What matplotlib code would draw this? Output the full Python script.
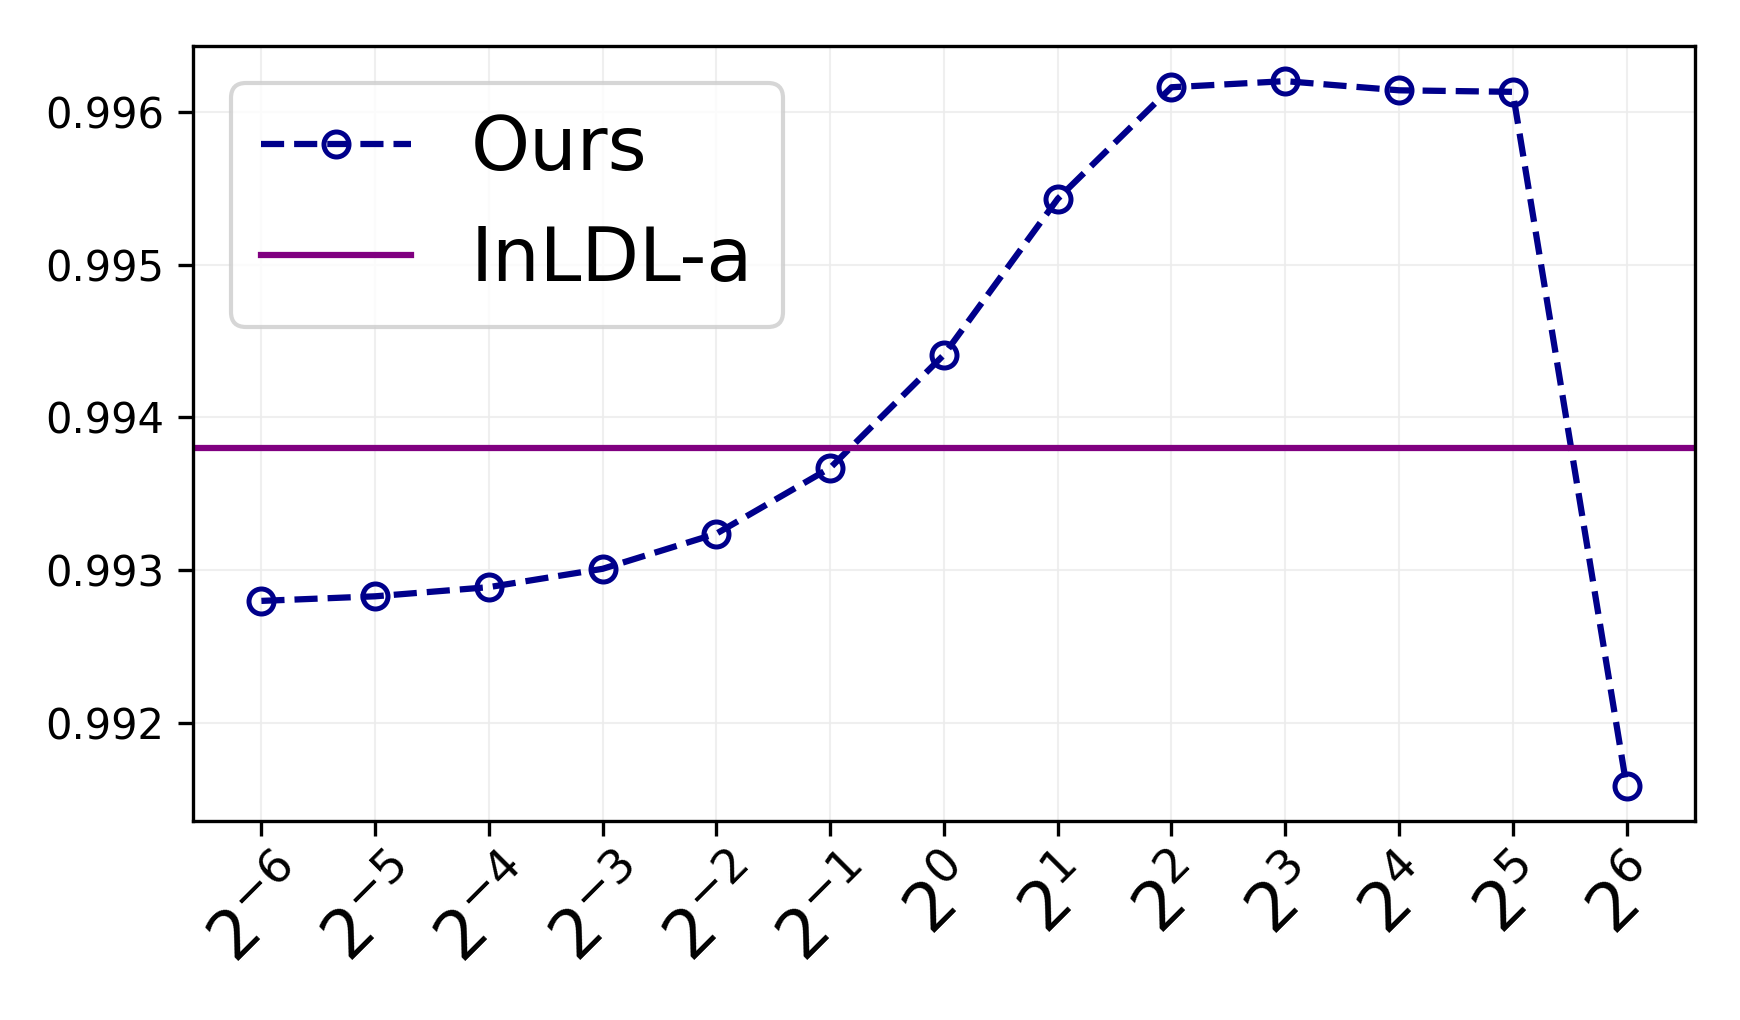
import matplotlib
matplotlib.use("Agg")
import matplotlib.pyplot as plt
import numpy as np

exponents = [-6, -5, -4, -3, -2, -1, 0, 1, 2, 3, 4, 5, 6]
tick_labels = [r"$2^{%d}$" % e for e in exponents]
ours = [0.99280, 0.99283, 0.99289, 0.99301, 0.99324, 0.99367, 0.99441,
        0.99543, 0.99616, 0.99620, 0.99614, 0.99613, 0.99159]
inldl_a = 0.99380

fig = plt.figure(figsize=(5.8, 3.4), dpi=300)
ax = fig.add_axes([0.111, 0.195, 0.863, 0.760])
x = np.arange(len(exponents))
ax.plot(x, ours, linestyle="--", color="darkblue", marker="o", markersize=6,
        markerfacecolor="none", markeredgewidth=1.2, linewidth=1.5, label="Ours")
ax.axhline(inldl_a, color="purple", linewidth=1.5, label="InLDL-a")
ax.set_xticks(x)
ax.set_xticklabels(tick_labels, rotation=45, fontsize=16)
ax.tick_params(axis="y", labelsize=10)
ax.grid(True, color="#ececec", linewidth=0.5, alpha=0.8)
ax.yaxis.set_major_formatter(matplotlib.ticker.FormatStrFormatter("%.3f"))
ax.legend(loc="upper left", fontsize=18, fancybox=True)
fig.savefig("out.png", dpi=300)
